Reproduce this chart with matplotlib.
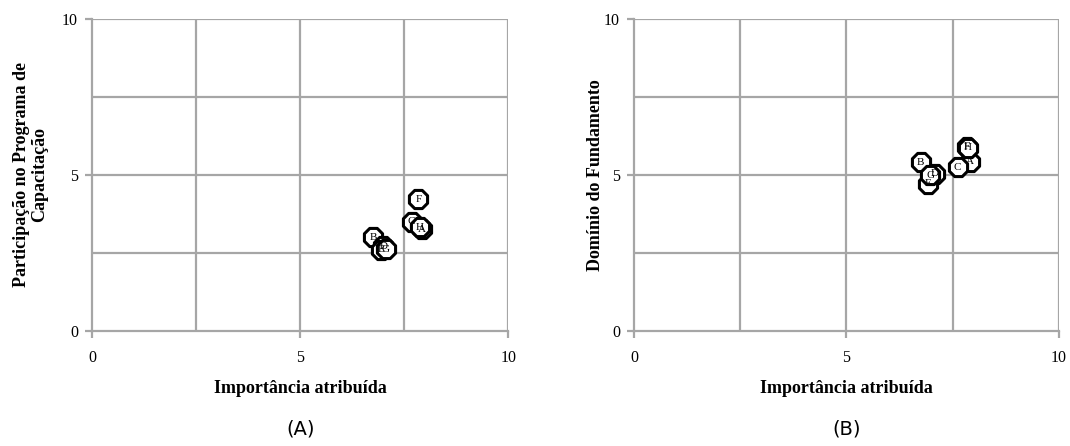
import matplotlib.pyplot as plt
import numpy as np

# point labels shared by both panels
labels = ["A", "B", "C", "D", "E", "F", "G", "H"]

# panel (A): importance vs participation
imp_a = [7.93, 6.75, 7.68, 7.00, 6.95, 7.84, 7.06, 7.88]
part_a = [3.25, 3.00, 3.50, 2.72, 2.60, 4.22, 2.62, 3.32]

# panel (B): importance vs domain
imp_b = [7.90, 6.75, 7.62, 7.08, 6.93, 7.83, 6.98, 7.86]
dom_b = [5.42, 5.41, 5.25, 5.03, 4.72, 5.90, 4.98, 5.87]

ticks = [0, 5, 10]
grey = "#a6a6a6"
serif = "Liberation Serif"


def drawPanel(ax, x, y, ylabel, caption, ypad):
    ax.set_xlim(0, 10)
    ax.set_ylim(0, 10)
    for v in np.arange(2.5, 10.1, 2.5):
        ax.axvline(v, color=grey, lw=1.6, zorder=1)
        ax.axhline(v, color=grey, lw=1.6, zorder=1)
    for s in ["top", "right"]:
        ax.spines[s].set_visible(False)
    for s in ["left", "bottom"]:
        ax.spines[s].set_color(grey)
        ax.spines[s].set_linewidth(1.6)
    ax.set_xticks(ticks)
    ax.set_yticks(ticks)
    ax.tick_params(colors=grey, length=5, width=1.6, labelcolor="black",
                   labelsize=11.5)
    ax.tick_params(axis="x", pad=9)
    ax.tick_params(axis="y", pad=5)
    for t in ax.get_xticklabels() + ax.get_yticklabels():
        t.set_fontfamily(serif)
    ax.scatter(x, y, s=200, marker="8", facecolor="white", edgecolor="black",
               linewidths=2.2, zorder=3)
    for xi, yi, lab in zip(x, y, labels):
        ax.text(xi, yi, lab, ha="center", va="center", fontsize=8,
                family=serif, zorder=4)
    ax.set_xlabel("Importância atribuída", family=serif, fontweight="bold",
                  fontsize=13, labelpad=10)
    ax.set_ylabel(ylabel, family=serif, fontweight="bold", fontsize=13,
                  labelpad=ypad, linespacing=1.1, multialignment="center")
    ax.text(0.5, -0.315, caption, transform=ax.transAxes, ha="center",
            va="center", fontsize=14, family="DejaVu Sans")


fig = plt.figure(figsize=(10.7, 4.46), dpi=100)
axA = fig.add_axes([0.086, 0.258, 0.389, 0.70])
axB = fig.add_axes([0.5925, 0.258, 0.397, 0.70])

drawPanel(axA, imp_a, part_a, "Participação no Programa de\nCapacitação", "(A)", 10)
drawPanel(axB, imp_b, dom_b, "Domínio do Fundamento", "(B)", 0)

fig.savefig("out.png", dpi=100)
